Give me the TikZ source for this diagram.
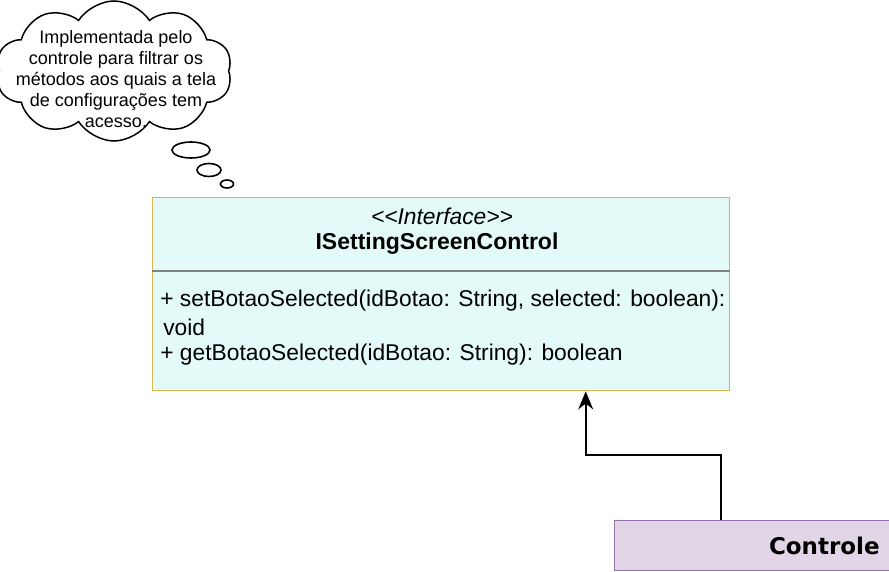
\documentclass[tikz,border=0pt]{standalone}
\usepackage{fontspec}
\setmainfont{Liberation Sans}
\newfontfamily\djv{DejaVu Sans}
\usetikzlibrary{arrows.meta,positioning,shapes.geometric,shapes.symbols}
\definecolor{ifill}{HTML}{E3FAF8}
\definecolor{iline}{HTML}{D6B656}
\definecolor{cfill}{HTML}{E1D5E7}
\definecolor{cline}{HTML}{9673A6}

\begin{document}
\begin{tikzpicture}[x=1pt,y=-1pt,semithick,
  iface/.style={draw=iline,fill=ifill,line width=1.4pt,minimum width=577pt,minimum height=193pt,anchor=north west},
  ctrl/.style={draw=cline,fill=cfill,line width=1.4pt,minimum height=50pt,text width=244pt,inner xsep=21pt,align=right,font=\djv\bfseries\fontsize{23}{27}\selectfont},
  txt/.style={font=\fontsize{22.8}{27}\selectfont,inner sep=0pt},
  thought/.style={draw,cloud,cloud puffs=10,cloud puff arc=115,aspect=1.7,minimum width=236pt,minimum height=140pt,line width=1.5pt},
  bub/.style={draw,ellipse,line width=1.6pt,inner sep=0pt},
  arr/.style={-{Stealth[length=18pt,width=15pt]},line width=2pt}]
  \useasboundingbox (0,0) rectangle (889,572);
	  \node[thought] (cloud) at (114,71) {};
	  \node[align=center,font=\fontsize{18}{21}\selectfont] (note) at (116,79) {Implementada pelo\\controle para filtrar os\\m\'etodos aos quais a tela\\de configura\c{c}\~oes tem\\acesso.};
	  \node[bub,minimum width=38pt,minimum height=16pt] (b1) at (191,150) {};
	  \node[bub,minimum width=24pt,minimum height=13pt] (b2) at (209,170) {};
	  \node[bub,minimum width=13pt,minimum height=8pt] (b3) at (227,184) {};
	  \node[iface] (I) at (152,197) {};
	  \node[txt,font=\itshape\fontsize{22.8}{27}\selectfont] (stereo) at (442,216) {<{}<Interface>{}>};
	  \node[txt,font=\bfseries\fontsize{23}{27}\selectfont] (name) at (437,244) {ISettingScreenControl};
	  \draw[gray,line width=1.4pt] (I.west |- 0,271) -- (I.east |- 0,271);
	  \node[txt,anchor=west] (m1) at (160,301) {+ setBotaoSelected(idBotao: String, selected: boolean):};
	  \node[txt,anchor=west] (m2) at (163,327) {void};
	  \node[txt,anchor=west] (m3) at (160,355) {+ getBotaoSelected(idBotao: String): boolean};
	  \node[ctrl,anchor=north west] (C) at (614,520) {Controle};
	  \draw[arr] ([xshift=-37pt]C.north) -- ++(0,-65) -| ([xshift=144.5pt]I.south);
	\end{tikzpicture}
\end{document}
